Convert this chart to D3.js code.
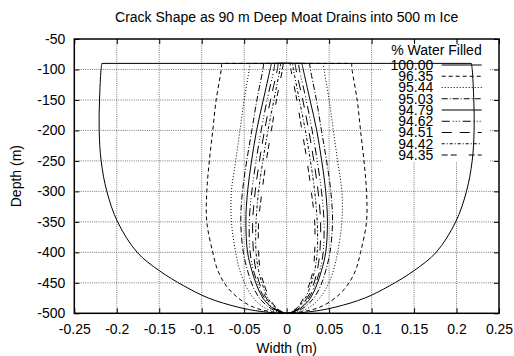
<!DOCTYPE html>
<html>
<head>
<meta charset="utf-8">
<script src="https://cdn.jsdelivr.net/npm/d3@7"></script>
<style>
  body { margin: 0; background: #fff; }
  svg text { font-family: "Liberation Sans", Arial, Helvetica, sans-serif; font-size: 14px; fill: #000; }
</style>
</head>
<body>
<div id="chart"></div>
<script>
var depths = [-90, -100, -150, -200, -250, -300, -350, -400, -430, -455, -475, -490, -497, -500];

var fillLabels = ["100.00", "96.35", "95.44", "95.03", "94.79", "94.62", "94.51", "94.42", "94.35"];

// half-width (m) of the crack for each fill level
var hw10000 = [0.2175, 0.2185, 0.2203, 0.2207, 0.2184, 0.2117, 0.199, 0.176, 0.150, 0.121, 0.092, 0.057, 0.03, 0];
var hw9635 = [0.0765, 0.077, 0.083, 0.087, 0.091, 0.094, 0.094, 0.087, 0.081, 0.071, 0.057, 0.039, 0.02, 0];
var hw9544 = [0.043, 0.044, 0.050, 0.055, 0.060, 0.065, 0.065, 0.060, 0.055, 0.048, 0.039, 0.027, 0.014, 0];
var hw9503 = [0.027, 0.028, 0.035, 0.041, 0.047, 0.052, 0.054, 0.051, 0.046, 0.040, 0.032, 0.021, 0.011, 0];
var hw9479 = [0.018, 0.0195, 0.0275, 0.0354, 0.0413, 0.046, 0.048, 0.046, 0.041, 0.035, 0.028, 0.018, 0.009, 0];
var hw9462 = [0.014, 0.015, 0.023, 0.030, 0.036, 0.041, 0.044, 0.043, 0.039, 0.033, 0.026, 0.017, 0.008, 0];
var hw9451 = [0.010, 0.011, 0.019, 0.026, 0.032, 0.037, 0.040, 0.039, 0.036, 0.031, 0.024, 0.016, 0.008, 0];
var hw9442 = [0.007, 0.008, 0.015, 0.022, 0.028, 0.033, 0.036, 0.036, 0.033, 0.028, 0.022, 0.014, 0.007, 0];
var hw9435 = [0.004, 0.005, 0.012, 0.018, 0.024, 0.029, 0.033, 0.033, 0.031, 0.026, 0.020, 0.013, 0.006, 0];

var xTicks = [-0.25, -0.2, -0.15, -0.1, -0.05, 0, 0.05, 0.1, 0.15, 0.2, 0.25];
var yTicks = [-50, -100, -150, -200, -250, -300, -350, -400, -450, -500];

var dashes = [null, "4,3", "1,2", "6,2,1,2", null, "8,3,1,2,1,2,1,3", "10,8", "3,2,1,2", "6,3,6,12"];

var series = [hw10000, hw9635, hw9544, hw9503, hw9479, hw9462, hw9451, hw9442, hw9435].map(function (hw, i) {
  return { label: fillLabels[i], hw: hw, dash: dashes[i] };
});

var W = 514, H = 356;
var pLeft = 74.3, pRight = 499, pTop = 39, pBottom = 313.3;

var svg = d3.select("#chart").append("svg")
  .attr("width", W)
  .attr("height", H);

var x = d3.scaleLinear().domain([-0.25, 0.25]).range([pLeft, pRight]);
var y = d3.scaleLinear().domain([-500, -50]).range([pBottom, pTop]);

var fmt = function (d) { return String(+d.toFixed(2)); };

// grid
var grid = svg.append("g").attr("stroke", "#777").attr("stroke-width", 1).attr("stroke-dasharray", "1,1.2");
grid.selectAll("line.gx").data(xTicks.slice(1, -1)).enter().append("line")
  .attr("x1", function (d) { return x(d); }).attr("x2", function (d) { return x(d); })
  .attr("y1", pTop).attr("y2", pBottom);
grid.selectAll("line.gy").data(yTicks.slice(1, -1)).enter().append("line")
  .attr("x1", pLeft).attr("x2", pRight)
  .attr("y1", function (d) { return y(d); }).attr("y2", function (d) { return y(d); });

// legend box hides the grid behind it
svg.append("rect").attr("x", 382).attr("y", 42).attr("width", 108).attr("height", 120).attr("fill", "#fff");

// axes, ticks pointing inward
svg.append("g").attr("transform", "translate(0," + pBottom + ")")
  .call(d3.axisBottom(x).tickValues(xTicks).tickFormat(fmt).tickSize(-5).tickPadding(10.5));
svg.append("g").attr("transform", "translate(0," + pTop + ")")
  .call(d3.axisTop(x).tickValues(xTicks).tickFormat("").tickSize(-5));
svg.append("g").attr("transform", "translate(" + pLeft + ",0)")
  .call(d3.axisLeft(y).tickValues(yTicks).tickFormat(fmt).tickSize(-5).tickPadding(9));
svg.append("g").attr("transform", "translate(" + pRight + ",0)")
  .call(d3.axisRight(y).tickValues(yTicks).tickFormat("").tickSize(-5));

svg.selectAll(".domain").remove();
svg.selectAll(".tick line").attr("stroke", "#000");
svg.selectAll(".tick text").attr("font-family", null).attr("font-size", null);

// curves: left side down to the tip, back up the right side, closed across the top
var line = d3.line()
  .x(function (p) { return x(p[0]); })
  .y(function (p) { return y(p[1]); })
  .curve(d3.curveCatmullRom.alpha(0.5));

series.forEach(function (s) {
  var pts = [];
  depths.forEach(function (d, i) { pts.push([-s.hw[i], d]); });
  for (var i = depths.length - 2; i >= 0; i--) pts.push([s.hw[i], depths[i]]);
  svg.append("path")
    .attr("d", line(pts) + "Z")
    .attr("fill", "none")
    .attr("stroke", "#000")
    .attr("stroke-width", 1)
    .attr("stroke-dasharray", s.dash);
});

// frame
svg.append("rect")
  .attr("x", pLeft).attr("y", pTop)
  .attr("width", pRight - pLeft).attr("height", pBottom - pTop)
  .attr("fill", "none").attr("stroke", "#000").attr("stroke-width", 1.5);

// legend
var legend = svg.append("g");
legend.append("text").attr("x", 481.7).attr("y", 55).attr("text-anchor", "end").text("% Water Filled");
var rows = legend.selectAll("g.row").data(series).enter().append("g")
  .attr("transform", function (d, i) { return "translate(0," + (65 + i * 11.25) + ")"; });
rows.append("text").attr("x", 433.3).attr("dy", "0.35em").attr("text-anchor", "end").text(function (d) { return d.label; });
rows.append("line").attr("x1", 441.7).attr("x2", 481.7)
  .attr("stroke", "#000").attr("stroke-width", 1)
  .attr("stroke-dasharray", function (d) { return d.dash; });

// titles
svg.append("text").attr("x", (pLeft + pRight) / 2).attr("y", 22).attr("text-anchor", "middle")
  .text("Crack Shape as 90 m Deep Moat Drains into 500 m Ice");
svg.append("text").attr("x", (pLeft + pRight) / 2).attr("y", 353).attr("text-anchor", "middle")
  .text("Width (m)");
svg.append("text").attr("transform", "translate(21," + (pTop + pBottom) / 2 + ") rotate(-90)")
  .attr("text-anchor", "middle").text("Depth (m)");
</script>
</body>
</html>
